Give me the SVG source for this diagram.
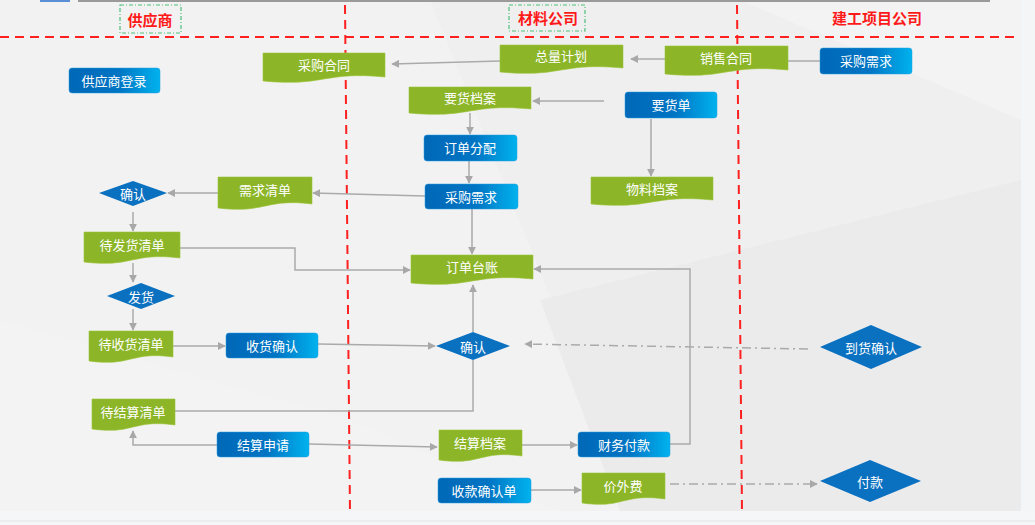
<svg xmlns="http://www.w3.org/2000/svg" width="1035" height="525" viewBox="0 0 1035 525">
<defs>
<linearGradient id="bg" x1="0" y1="0" x2="1" y2="0">
<stop offset="0" stop-color="#0068b7"/>
<stop offset="0.55" stop-color="#0075c4"/>
<stop offset="1" stop-color="#00b2ee"/>
</linearGradient>
<marker id="ah" viewBox="0 0 10 10" refX="9" refY="5" markerWidth="8" markerHeight="8" markerUnits="userSpaceOnUse" orient="auto">
<path d="M0,0 L10,5 L0,10 Z" fill="#a8a8a8"/>
</marker>
<style>
.doc{fill:#8cb628;stroke:#9cc43a;stroke-width:0.6}
.box{fill:url(#bg);stroke:#2a9ee0;stroke-width:0.5}
.dia{fill:#0a70c0}
.t{font-family:"Noto Sans CJK SC","Noto Sans",sans-serif;font-size:13px;fill:#ffffff;text-anchor:middle;dominant-baseline:central}
.h{font-family:"Noto Sans CJK SC","Noto Sans",sans-serif;font-size:15px;font-weight:bold;fill:#ff1a1a;text-anchor:middle;dominant-baseline:central}
.c{fill:none;stroke:#aaaaaa;stroke-width:1.5}
.cd{fill:none;stroke:#aaaaaa;stroke-width:1.5;stroke-dasharray:9,4,2,4}
.red{fill:none;stroke:#ff2020;stroke-width:2;stroke-dasharray:9,6}
.gb{fill:none;stroke:#4cbf7a;stroke-width:1.2;stroke-dasharray:4,2,1,2}
</style>
</defs>
<g id="background">
<rect x="0" y="0" width="1035" height="525" fill="#f4f5f7"/>
<rect x="0" y="0" width="1021" height="511" fill="#efefef"/>
<polygon points="0,0 430,0 640,520 0,520" fill="#f2f2f2"/>
<polygon points="0,320 350,420 560,511 0,511" fill="#f3f3f3"/>
<polygon points="540,300 1021,180 1021,511 620,511" fill="#ebebec"/>
<polygon points="740,0 1021,0 1021,120" fill="#f3f3f3"/>
<rect x="0" y="511" width="1035" height="14" fill="#f5f6f8"/>
<line x1="0" y1="521" x2="1035" y2="521" stroke="#e2e3e8" stroke-width="1"/>
<rect x="40" y="0" width="30" height="2" fill="#5a8fd8"/>
<rect x="78" y="0" width="912" height="2" fill="#9a9a9a"/>
</g>
<g id="lanes">
<line class="red" x1="0" y1="37" x2="1020" y2="37"/>
<line class="red" x1="345" y1="5" x2="350" y2="513"/>
<line class="red" x1="737" y1="5" x2="742" y2="511"/>
<rect class="gb" x="120" y="5" width="61" height="28"/>
<text class="h" x="150" y="19">供应商</text>
<rect class="gb" x="509" y="5" width="76" height="26"/>
<text class="h" x="548" y="17">材料公司</text>
<text class="h" x="877" y="17">建工项目公司</text>
</g>
<g id="connectors">
<path class="c" d="M665,59 H631" marker-end="url(#ah)"/>
<path class="c" d="M820,61 H788"/>
<path class="c" d="M500,61 L392,64" marker-end="url(#ah)"/>
<path class="c" d="M604,101 H533" marker-end="url(#ah)"/>
<path class="c" d="M470,113 V134" marker-end="url(#ah)"/>
<path class="c" d="M651,119 V176" marker-end="url(#ah)"/>
<path class="c" d="M469,161 V183" marker-end="url(#ah)"/>
<path class="c" d="M425,196 L313,193" marker-end="url(#ah)"/>
<path class="c" d="M218,193 H168" marker-end="url(#ah)"/>
<path class="c" d="M133,212 V231" marker-end="url(#ah)"/>
<path class="c" d="M180,248 H295 V270 H410" marker-end="url(#ah)"/>
<path class="c" d="M133,263 V282" marker-end="url(#ah)"/>
<path class="c" d="M133,309 V330" marker-end="url(#ah)"/>
<path class="c" d="M472,209 V254" marker-end="url(#ah)"/>
<path class="c" d="M173,346 H225" marker-end="url(#ah)"/>
<path class="c" d="M318,344 L435,346" marker-end="url(#ah)"/>
<path class="cd" d="M808,349 L525,344" marker-end="url(#ah)"/>
<path class="c" d="M473,332 V285" marker-end="url(#ah)"/>
<path class="c" d="M473,360 V411 H175"/>
<path class="c" d="M217,445 H133 V431" marker-end="url(#ah)"/>
<path class="c" d="M309,444 L437,447" marker-end="url(#ah)"/>
<path class="c" d="M522,445 H577" marker-end="url(#ah)"/>
<path class="c" d="M670,444 H690 V269 H534" marker-end="url(#ah)"/>
<path class="c" d="M531,490 H581" marker-end="url(#ah)"/>
<path class="cd" d="M670,484 H817" marker-end="url(#ah)"/>
</g>
<g id="n-supplier-login"><rect class="box" x="69" y="68" width="91" height="25" rx="3"/><text class="t" x="114" y="80">供应商登录</text></g>
<g id="n-purchase-contract"><path class="doc" d="M263,53 H385 V77 C324,71 324,87 263,81 Z"/><text class="t" x="324" y="64">采购合同</text></g>
<g id="n-total-plan"><path class="doc" d="M500,45 H623 V68 C561,62 561,78 500,72 Z"/><text class="t" x="561" y="55">总量计划</text></g>
<g id="n-sales-contract"><path class="doc" d="M665,46 H788 V70 C726,64 726,80 665,74 Z"/><text class="t" x="726" y="57">销售合同</text></g>
<g id="n-purchase-demand-top"><rect class="box" x="820" y="48" width="92" height="26" rx="3"/><text class="t" x="866" y="60">采购需求</text></g>
<g id="n-order-archive"><path class="doc" d="M409,87 H531 V109 C470,103 470,119 409,113 Z"/><text class="t" x="470" y="97">要货档案</text></g>
<g id="n-order-form"><rect class="box" x="625" y="92" width="92" height="26" rx="3"/><text class="t" x="671" y="104">要货单</text></g>
<g id="n-order-assign"><rect class="box" x="424" y="135" width="93" height="26" rx="3"/><text class="t" x="470" y="147">订单分配</text></g>
<g id="n-purchase-demand-mid"><rect class="box" x="425" y="184" width="93" height="25" rx="3"/><text class="t" x="471" y="196">采购需求</text></g>
<g id="n-material-archive"><path class="doc" d="M591,177 H713 V200 C652,194 652,210 591,204 Z"/><text class="t" x="652" y="188">物料档案</text></g>
<g id="n-demand-list"><path class="doc" d="M218,177 H312 V204 C265,198 265,214 218,208 Z"/><text class="t" x="265" y="189">需求清单</text></g>
<g id="n-confirm-left"><polygon class="dia" points="99,193 133,181 167,193 133,206"/><text class="t" x="133" y="193">确认</text></g>
<g id="n-to-ship-list"><path class="doc" d="M84,232 H180 V258 C132,252 132,268 84,262 Z"/><text class="t" x="132" y="244">待发货清单</text></g>
<g id="n-ship"><polygon class="dia" points="107,296 141,283 175,296 141,309"/><text class="t" x="141" y="296">发货</text></g>
<g id="n-order-ledger"><path class="doc" d="M411,255 H533 V279 C472,273 472,289 411,283 Z"/><text class="t" x="472" y="266">订单台账</text></g>
<g id="n-to-receive-list"><path class="doc" d="M89,331 H173 V357 C131,351 131,367 89,361 Z"/><text class="t" x="131" y="343">待收货清单</text></g>
<g id="n-receive-confirm"><rect class="box" x="226" y="333" width="92" height="25" rx="3"/><text class="t" x="272" y="345">收货确认</text></g>
<g id="n-confirm-mid"><polygon class="dia" points="436,346 473,332 510,346 473,360"/><text class="t" x="473" y="346">确认</text></g>
<g id="n-arrival-confirm"><polygon class="dia" points="820,347 871,325 922,347 871,369"/><text class="t" x="871" y="347">到货确认</text></g>
<g id="n-to-settle-list"><path class="doc" d="M92,399 H175 V425 C133,419 133,435 92,429 Z"/><text class="t" x="133" y="411">待结算清单</text></g>
<g id="n-settle-apply"><rect class="box" x="217" y="432" width="92" height="25" rx="3"/><text class="t" x="263" y="444">结算申请</text></g>
<g id="n-settle-archive"><path class="doc" d="M439,430 H522 V456 C480,450 480,466 439,460 Z"/><text class="t" x="480" y="442">结算档案</text></g>
<g id="n-finance-pay"><rect class="box" x="578" y="432" width="92" height="25" rx="3"/><text class="t" x="624" y="444">财务付款</text></g>
<g id="n-receipt-confirm"><rect class="box" x="438" y="478" width="93" height="25" rx="3"/><text class="t" x="484" y="490">收款确认单</text></g>
<g id="n-extra-fee"><path class="doc" d="M582,473 H665 V499 C623,493 623,509 582,503 Z"/><text class="t" x="623" y="485">价外费</text></g>
<g id="n-payment"><polygon class="dia" points="820,481 870,460 921,481 870,502"/><text class="t" x="870" y="481">付款</text></g>
</svg>
